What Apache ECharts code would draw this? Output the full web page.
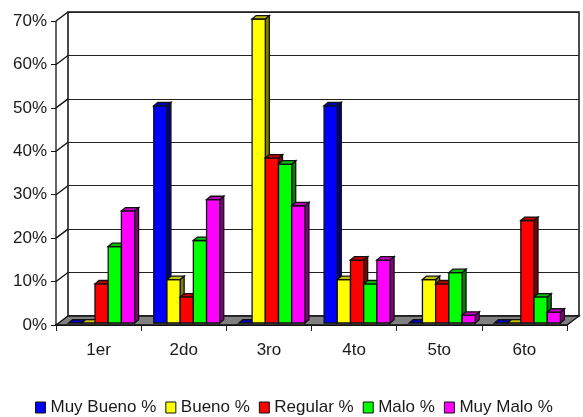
<!DOCTYPE html>
<html>
<head>
<meta charset="utf-8">
<style>html,body{margin:0;padding:0;background:#fff}#chart{width:583px;height:417px}</style>
<script src="https://cdn.jsdelivr.net/npm/echarts@6/dist/echarts.min.js"></script>
</head>
<body>
<div id="chart"></div>
<script>
const categories = ['1er', '2do', '3ro', '4to', '5to', '6to'];
const yTicks = [0, 10, 20, 30, 40, 50, 60, 70];
const muyBueno = [0, 50, 0, 50, 0, 0];
const bueno = [0, 10, 70, 10, 10, 0];
const regular = [9, 6, 38, 14.5, 9, 23.6];
const malo = [17.6, 19, 36.6, 9, 11.6, 6];
const muyMalo = [25.8, 28.4, 27, 14.5, 1.8, 2.5];

const seriesDefs = [
  { name: 'Muy Bueno %', values: muyBueno, front: '#0000ff', top: '#0000b0', side: '#000080' },
  { name: 'Bueno %', values: bueno, front: '#ffff00', top: '#c0c000', side: '#808000' },
  { name: 'Regular %', values: regular, front: '#ff0000', top: '#c00000', side: '#800000' },
  { name: 'Malo %', values: malo, front: '#00ff00', top: '#00c000', side: '#008000' },
  { name: 'Muy Malo %', values: muyMalo, front: '#ff00ff', top: '#c000c0', side: '#800080' }
];

// Oblique projection of the chart box and of each bar
const WALL_DX = 12, WALL_DY = -9;
const BAR_DX = 4, BAR_DY = -3.4;
const BAR_LIFT = -2;
const GROUP_SHIFT = 3;
const BAR_SHARE = 0.155;
const EDGE = { stroke: '#111', lineWidth: 1.3 };

function poly(points, fill, edge) {
  return { type: 'polygon', shape: { points }, style: Object.assign({ fill }, edge || EDGE) };
}

function renderBar(def, index) {
  return function (params, api) {
    const cat = api.value(0);
    const top = api.coord([cat, api.value(1)]);
    const base = api.coord([cat, 0]);
    const band = api.size([1, 0])[0];
    const w = band * BAR_SHARE;
    const x0 = top[0] + GROUP_SHIFT + (index - 2.5) * w;
    const x1 = x0 + w;
    const yT = top[1] + BAR_LIFT;
    const yB = base[1] + BAR_LIFT;
    const children = [];
    if (api.value(1) > 0) {
      children.push(poly([[x1, yT], [x1 + BAR_DX, yT + BAR_DY], [x1 + BAR_DX, yB + BAR_DY], [x1, yB]], def.side));
      children.push(poly([[x0, yT], [x1, yT], [x1, yB], [x0, yB]], def.front));
    }
    children.push(poly([[x0, yT], [x0 + BAR_DX, yT + BAR_DY], [x1 + BAR_DX, yT + BAR_DY], [x1, yT]], def.top));
    return { type: 'group', children };
  };
}

// Floor and the left side wall with its receding tick lines
function renderFrame(params, api) {
  const v = api.value(0);
  const band = api.size([1, 0])[0];
  const first = api.coord([0, v]);
  const p = [first[0] - band / 2, first[1]];
  const children = [];
  if (v === 0) {
    const last = api.coord([categories.length - 1, 0]);
    const q = [last[0] + band / 2, last[1]];
    const wallTop = api.coord([0, yTicks[yTicks.length - 1]]);
    children.push(poly([p, [p[0] + WALL_DX, p[1] + WALL_DY], [q[0] + WALL_DX, q[1] + WALL_DY], q], '#808080'));
    children.push({
      type: 'line',
      shape: { x1: p[0], y1: wallTop[1], x2: p[0], y2: p[1] },
      style: EDGE
    });
  } else {
    children.push({
      type: 'line',
      shape: { x1: p[0], y1: p[1], x2: p[0] + WALL_DX, y2: p[1] + WALL_DY },
      style: EDGE
    });
  }
  return { type: 'group', children };
}

const labelStyle = { color: '#1a1a1a', fontFamily: 'Liberation Sans', fontSize: 17 };

const option = {
  animation: false,
  backgroundColor: '#fff',
  grid: [
    { left: 56, right: 16, top: 21, height: 304 },
    {
      left: 68, right: 4, top: 12, height: 304, show: true,
      backgroundColor: '#fff', borderColor: '#111', borderWidth: 1.5
    }
  ],
  xAxis: [
    {
      type: 'category', gridIndex: 0, data: categories,
      boundaryGap: true,
      axisLine: { lineStyle: { color: '#111', width: 2 } },
      axisTick: { show: true, alignWithLabel: false, length: 6, lineStyle: { color: '#222' } },
      axisLabel: Object.assign({ margin: 17 }, labelStyle)
    },
    {
      type: 'category', gridIndex: 1, data: categories,
      axisLine: { show: false }, axisTick: { show: false }, axisLabel: { show: false }
    }
  ],
  yAxis: [
    {
      type: 'value', gridIndex: 0, min: 0, max: 70, interval: 10,
      axisLine: { show: false },
      axisTick: { show: true, length: 5, lineStyle: { color: '#111' } },
      axisLabel: Object.assign({ margin: 9, formatter: '{value}%' }, labelStyle),
      splitLine: { show: false }
    },
    {
      type: 'value', gridIndex: 1, min: 0, max: 70, interval: 10,
      axisLine: { show: false }, axisTick: { show: false }, axisLabel: { show: false },
      splitLine: { show: true, lineStyle: { color: '#222', width: 1 } }
    }
  ],
  legend: {
    left: 30, top: 394, itemWidth: 10, itemHeight: 11, itemGap: 9,
    icon: 'rect',
    itemStyle: { borderColor: '#111', borderWidth: 1 },
    textStyle: labelStyle,
    data: seriesDefs.map(d => d.name)
  },
  series: [
    {
      type: 'custom', name: 'frame', xAxisIndex: 0, yAxisIndex: 0, z: 1,
      clip: false, silent: true,
      renderItem: renderFrame,
      encode: { y: 0 },
      data: yTicks.map(t => [t])
    }
  ].concat(seriesDefs.map((d, i) => ({
    type: 'custom', name: d.name, xAxisIndex: 0, yAxisIndex: 0, z: 3 + i,
    clip: false,
    itemStyle: { color: d.front },
    renderItem: renderBar(d, i),
    encode: { x: 0, y: 1 },
    data: d.values.map((v, c) => [c, v])
  })))
};

const chart = echarts.init(document.getElementById('chart'), null, { renderer: 'canvas' });
chart.setOption(option);
</script>
</body>
</html>
